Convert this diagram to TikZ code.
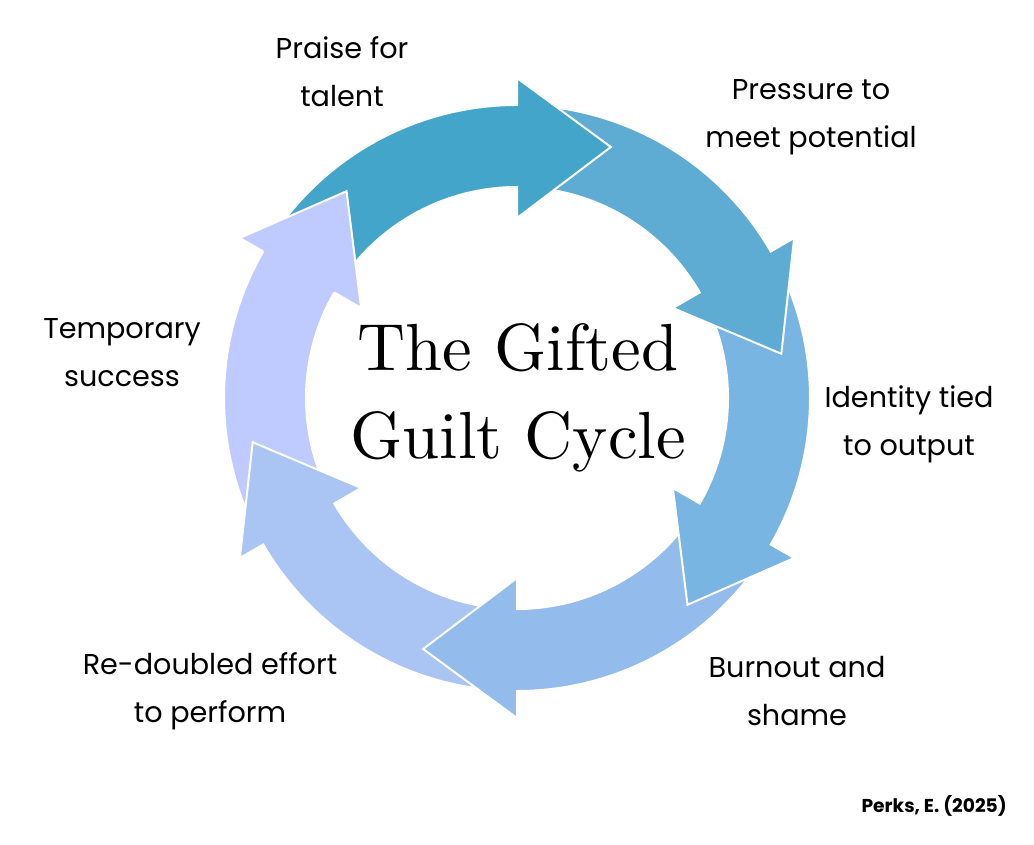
\documentclass[tikz,border=0pt]{standalone}
\usepackage{fontspec}
\usepackage{xcolor}
\usepackage{tikz}
\newfontfamily\phasefont{Poppins}
\newfontfamily\headfont{lmroman10-regular}[Extension=.otf]
\definecolor{cyc1}{HTML}{43A5C9}
\definecolor{cyc2}{HTML}{5EABD4}
\definecolor{cyc3}{HTML}{78B5E2}
\definecolor{cyc4}{HTML}{93BBEC}
\definecolor{cyc5}{HTML}{AAC4F4}
\definecolor{cyc6}{HTML}{BFCBFE}

\begin{document}
\begin{tikzpicture}[
    x=0.75pt, y=0.75pt,
    seg/.style={draw=white, line width=1.5pt},
    phase/.style={align=center, font=\phasefont\fontsize{21.5}{36}\selectfont},
    headline/.style={align=center, font=\headfont\fontsize{50}{66}\selectfont},
    credit/.style={anchor=base east, inner sep=0pt, font=\phasefont\bfseries\fontsize{14}{16}\selectfont},
]
    \useasboundingbox (0,0) rectangle (1034,844);
    \fill[white] (0,0) rectangle (1034,844);

    % Cycle arrows (drawn backwards so each head lies over the next tail)
    \begin{scope}[shift={(517,446)}]
        \foreach \k/\col in {5/cyc6, 4/cyc5, 3/cyc4, 2/cyc3, 1/cyc2, 0/cyc1} {
            \pgfmathsetmacro\b{90-60*\k}
            \pgfmathsetmacro\t{\b+55}
            \pgfmathsetmacro\p{\b-20.5}
            \filldraw[seg, fill=\col] (\t:293) arc[start angle=\t, end angle=\b, radius=293]
                -- (\b:320) -- (\p:268) -- (\b:180) -- (\b:211)
                arc[start angle=\b, end angle=\t, radius=211] -- cycle;
        }
        % last head again, over the first tail
        \fill[cyc6] (150:320) -- (129.5:268) -- (150:180) -- cycle;
        \draw[white, line width=1.5pt] (150:293) -- (150:320) -- (129.5:268) -- (150:180) -- (150:211);
    \end{scope}

    % Title
    \node[headline] (title) at (518,446) {The Gifted\\Guilt Cycle};

    % Stages
    \node[phase] (praise)    at (342,772) {Praise for\\talent};
    \node[phase] (pressure)  at (811,727) {Pressure to\\meet potential};
    \node[phase] (identity)  at (909,420) {Identity tied\\to output};
    \node[phase] (burnout)   at (797,153) {Burnout and\\shame};
    \node[phase] (redoubled) at (210,153) {Re-doubled effort\\to perform};
    \node[phase] (temporary) at (122,491) {Temporary\\success};

    \node[credit] (source) at (1007,32) {Perks, E. (2025)};
\end{tikzpicture}
\end{document}
